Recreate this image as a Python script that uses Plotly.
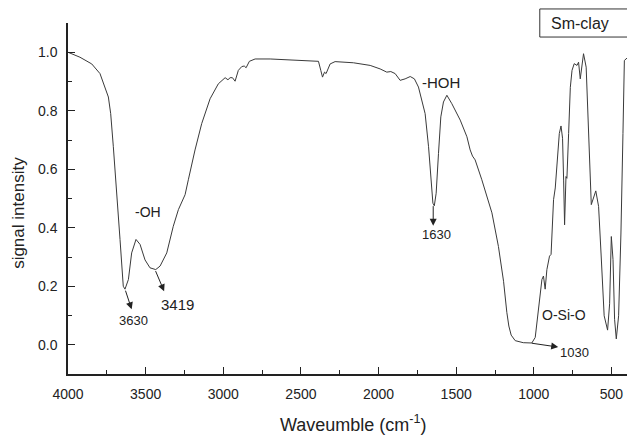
import plotly.graph_objects as go

# Wavenumber (cm^-1) and normalized signal intensity
wavenumber = [4000, 3923, 3847, 3794, 3740, 3725, 3708, 3686, 3665, 3644, 3633,
              3611, 3590, 3562, 3536, 3504, 3472, 3435, 3407, 3364, 3322, 3289,
              3246, 3225, 3182, 3139, 3085, 3032, 2988, 2970, 2956, 2941, 2924,
              2903, 2881, 2865, 2853, 2832, 2795, 2698, 2387, 2372, 2361, 2348,
              2338, 2312, 2280, 2162, 2054, 1990, 1947, 1921, 1893, 1861, 1829,
              1796, 1769, 1743, 1732, 1700, 1678, 1662, 1650, 1641, 1629, 1614,
              1599, 1582, 1560, 1528, 1474, 1431, 1410, 1395, 1378, 1335, 1302,
              1270, 1228, 1195, 1174, 1161, 1146, 1120, 1068, 1013, 991, 970,
              948, 938, 927, 916, 899, 889, 873, 862, 851, 836, 825, 815, 808,
              802, 793, 787, 776, 765, 754, 740, 722, 712, 701, 690, 680, 663,
              648, 630, 601, 583, 566, 547, 525, 512, 501, 490, 480, 469, 454,
              439, 426, 417, 400]
intensity = [1.000, 0.983, 0.960, 0.927, 0.847, 0.790, 0.677, 0.530, 0.360, 0.200, 0.190,
             0.223, 0.314, 0.360, 0.343, 0.290, 0.263, 0.257, 0.269, 0.314, 0.405, 0.462,
             0.513, 0.564, 0.666, 0.756, 0.841, 0.892, 0.913, 0.906, 0.913, 0.913, 0.901,
             0.938, 0.951, 0.953, 0.947, 0.969, 0.977, 0.977, 0.969, 0.938, 0.915, 0.932,
             0.927, 0.960, 0.968, 0.964, 0.955, 0.943, 0.932, 0.934, 0.927, 0.904, 0.909,
             0.917, 0.909, 0.881, 0.858, 0.790, 0.677, 0.564, 0.484, 0.475, 0.518, 0.654,
             0.779, 0.830, 0.853, 0.824, 0.768, 0.711, 0.666, 0.645, 0.632, 0.564, 0.502,
             0.451, 0.336, 0.217, 0.111, 0.064, 0.033, 0.014, 0.007, 0.006, 0.025, 0.121,
             0.223, 0.235, 0.190, 0.257, 0.303, 0.309, 0.496, 0.536, 0.609, 0.722, 0.748, 0.706, 0.560,
             0.410, 0.575, 0.569, 0.722, 0.880, 0.938, 0.961, 0.955, 0.966, 0.909, 0.961, 0.995, 0.949,
             0.722, 0.479, 0.526, 0.473, 0.300, 0.099, 0.050, 0.140, 0.370, 0.291, 0.087, 0.020, 0.099,
             0.382, 0.722, 0.972, 0.980]

# Band annotations: (label, x, y, font size)
labels = [("-OH", 3485, 0.455, 14), ("3630", 3575, 0.084, 13), ("3419", 3298, 0.138, 15),
          ("-HOH", 1597, 0.897, 15), ("1630", 1629, 0.377, 13), ("O-Si-O", 804, 0.101, 14),
          ("1030", 740, -0.028, 13)]
# Arrows: (head_x, head_y, tail_x, tail_y)
arrows = [(3590, 0.121, 3633, 0.19), (3381, 0.183, 3440, 0.257),
          (1648, 0.407, 1648, 0.479), (843, -0.008, 1023, 0.006)]

FONT = "Liberation Sans, Arial, sans-serif"
INK = "#222222"

fig = go.Figure()
fig.add_trace(go.Scatter(x=wavenumber, y=intensity, mode="lines",
                         line=dict(color="#3a3a3a", width=1), showlegend=False,
                         hoverinfo="skip"))

axis_common = dict(showline=True, linecolor=INK, linewidth=1.5, showgrid=False,
                   zeroline=False, ticks="inside", ticklen=7, tickwidth=1.2,
                   tickcolor=INK, tickfont=dict(family=FONT, size=14, color=INK))

fig.update_xaxes(range=[4000, 400], tick0=0, dtick=500, ticklabelstandoff=6,
                 minor=dict(ticks="inside", ticklen=4, dtick=250, tick0=0, tickcolor=INK),
                 **axis_common)
fig.update_yaxes(range=[-0.1, 1.1], tick0=0, dtick=0.2, tickformat=".1f",
                 ticklabelstandoff=6,
                 minor=dict(ticks="inside", ticklen=4, dtick=0.1, tick0=0, tickcolor=INK),
                 **axis_common)

for text, x, y, size in labels:
    fig.add_annotation(x=x, y=y, text=text, showarrow=False,
                       xanchor="center", yanchor="middle",
                       font=dict(family=FONT, size=size, color=INK))
for hx, hy, tx, ty in arrows:
    fig.add_annotation(x=hx, y=hy, ax=tx, ay=ty, axref="x", ayref="y", text="",
                       showarrow=True, arrowhead=2, arrowsize=1.4, arrowwidth=1,
                       arrowcolor=INK)

# Sample legend box
fig.add_shape(type="rect", xref="paper", yref="paper", x0=0.844, x1=1.06,
              y0=0.96, y1=1.04, line=dict(color="#333333", width=1),
              fillcolor="white")
fig.add_annotation(xref="paper", yref="paper", x=0.860, y=1.0, xanchor="left",
                   yanchor="middle", text="Sm-clay", showarrow=False,
                   font=dict(family=FONT, size=16, color=INK))

# Axis titles
fig.add_annotation(xref="paper", yref="paper", x=0.51, y=-0.142,
                   xanchor="center", yanchor="middle",
                   text="Waveumble (cm<sup>-1</sup>)",
                   showarrow=False, font=dict(family=FONT, size=18, color=INK))
fig.add_annotation(xref="paper", yref="paper", x=-0.0877, y=0.459,
                   xanchor="center", yanchor="middle", text="signal intensity",
                   textangle=-90, showarrow=False, font=dict(family=FONT, size=17, color=INK))

fig.update_layout(width=627, height=437, margin=dict(l=68, r=0, t=23, b=63),
                  plot_bgcolor="white", paper_bgcolor="white")

fig.write_html("out.html")
